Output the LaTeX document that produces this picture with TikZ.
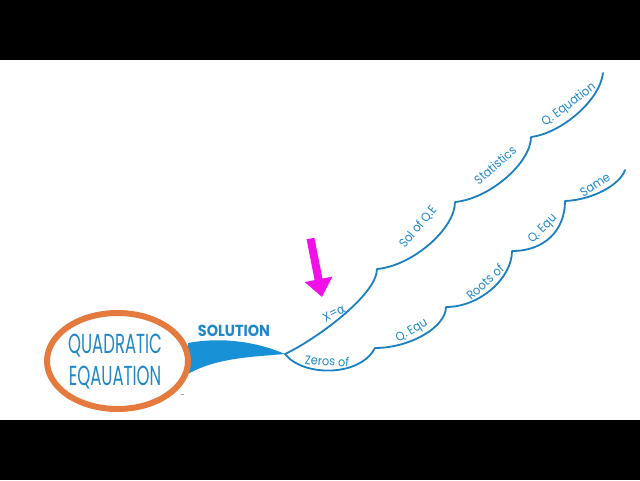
\documentclass[tikz,border=0pt]{standalone}
\usepackage{fontspec}
\setmainfont{Poppins}
\newfontfamily\bigfont[FakeStretch=0.6]{Poppins}
\newfontfamily\labfont[FakeStretch=0.9]{Poppins}
\newfontfamily\greekfont{DejaVu Sans}
\usetikzlibrary{arrows.meta}
\definecolor{lineblue}{RGB}{27,128,192}
\definecolor{textblue}{RGB}{32,136,200}
\definecolor{swooshblue}{RGB}{25,145,215}
\definecolor{ringorange}{RGB}{228,122,62}
\definecolor{arrowmag}{RGB}{240,16,232}
\tikzset{
  branch/.style={draw=lineblue, line width=1.8pt, line cap=round, line join=round},
  lab/.style={text=textblue, font=\labfont\fontsize{12.5}{12.5}\selectfont, inner sep=0pt},
  bigtext/.style={text=textblue, font=\bigfont\fontsize{27.5}{27.5}\selectfont, inner sep=0pt},
}
\begin{document}
\begin{tikzpicture}[x=1pt,y=-1pt]
\useasboundingbox (0,0) rectangle (640,480);
\fill[black] (0,0) rectangle (640,60);
\fill[white] (0,60) rectangle (640,420);
\fill[black] (0,420) rectangle (640,480);

% points
\coordinate (J) at (285,354);
\coordinate (U1) at (377,269);
\coordinate (U2) at (455,202);
\coordinate (U3) at (531,137);
\coordinate (U4) at (603,73);
\coordinate (L1) at (375,348);
\coordinate (L2) at (446,307);
\coordinate (L3) at (512,251);
\coordinate (L4) at (565,201);
\coordinate (L5) at (625,170);

% swoosh
\fill[swooshblue] (188,343) .. controls (220,337) and (255,341) .. (J)
   .. controls (250,357) and (215,358) .. (186,375) -- cycle;

% upper branch
\draw[branch] (J) .. controls (315,340) and (377,295) .. (U1)
  .. controls (412,266) and (455,229) .. (U2)
  .. controls (489,199) and (531,163) .. (U3)
  .. controls (562,133) and (600,100) .. (U4);
% lower branch
\draw[branch] (J) .. controls (303,377) and (360,377) .. (L1)
  .. controls (410,348) and (446,327) .. (L2)
  .. controls (480,307) and (512,278) .. (L3)
  .. controls (545,251) and (565,230) .. (L4)
  .. controls (592,200) and (620,185) .. (L5);

% ellipse
\draw[ringorange, line width=6pt] (117.5,361) ellipse [x radius=70.5, y radius=48];
\node[bigtext] (q1) at (115,346) {QUADRATIC};
\node[bigtext] (q2) at (115,378) {EQAUATION};
\draw[lineblue!60, line width=1pt] (180.5,394.5) -- (184,394.5);

\node[text=textblue, font=\labfont\fontsize{16}{16}\selectfont\bfseries, inner sep=0pt] (sol) at (234,331) {SOLUTION};

% labels
\node[lab, rotate=28] (lx) at (334,313) {X={\greekfont α}};
\node[lab, rotate=50] (l1) at (418,227) {Sol of Q.E};
\node[lab, rotate=41] (l2) at (495,165) {Statistics};
\node[lab, rotate=37] (l3) at (569,105) {Q. Equation};
\node[lab, rotate=-4] (l4) at (327,361) {Zeros of};
\node[lab, rotate=31] (l5) at (412,331) {Q. Equ};
\node[lab, rotate=42] (l6) at (485,282) {Roots of};
\node[lab, rotate=45] (l7) at (543,229) {Q. Equ};
\node[lab, rotate=33] (l8) at (595,185) {Same};

% magenta arrow
\coordinate (at) at (310.5,238.5);
\coordinate (ab) at (322,297);
\draw[arrowmag, line width=8pt, -{Triangle[width=27pt,length=18pt]}] (at) -- (ab);
\end{tikzpicture}
\end{document}
